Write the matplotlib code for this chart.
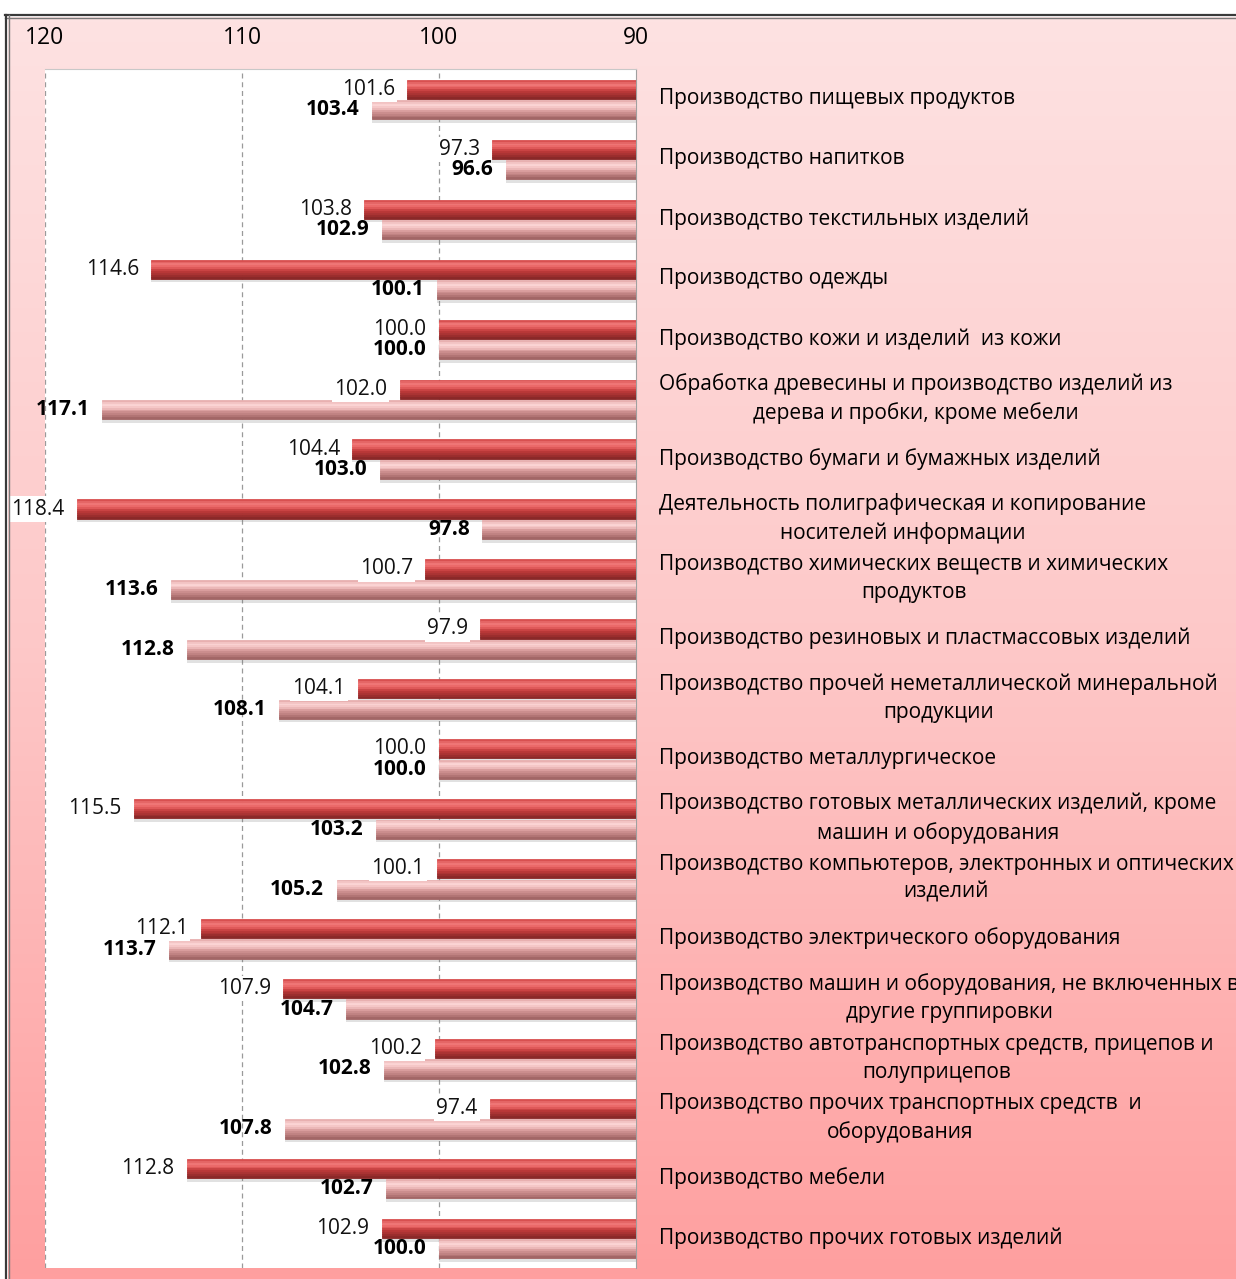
import matplotlib.pyplot as plt
import numpy as np
from matplotlib.lines import Line2D
from matplotlib.colors import LinearSegmentedColormap
from matplotlib.transforms import blended_transform_factory

plt.rcParams['font.family'] = ['Open Sans', 'DejaVu Sans']

categories = [
    "Производство пищевых продуктов",
    "Производство напитков",
    "Производство текстильных изделий",
    "Производство одежды",
    "Производство кожи и изделий  из кожи",
    "Обработка древесины и производство изделий из\nдерева и пробки, кроме мебели",
    "Производство бумаги и бумажных изделий",
    "Деятельность полиграфическая и копирование\nносителей информации",
    "Производство химических веществ и химических\nпродуктов",
    "Производство резиновых и пластмассовых изделий",
    "Производство прочей неметаллической минеральной\nпродукции",
    "Производство металлургическое",
    "Производство готовых металлических изделий, кроме\nмашин и оборудования",
    "Производство компьютеров, электронных и оптических\nизделий",
    "Производство электрического оборудования",
    "Производство машин и оборудования, не включенных в\nдругие группировки",
    "Производство автотранспортных средств, прицепов и\nполуприцепов",
    "Производство прочих транспортных средств  и\nоборудования",
    "Производство мебели",
    "Производство прочих готовых изделий",
]
series_a = [101.6, 97.3, 103.8, 114.6, 100.0, 102.0, 104.4, 118.4, 100.7, 97.9,
            104.1, 100.0, 115.5, 100.1, 112.1, 107.9, 100.2, 97.4, 112.8, 102.9]
series_b = [103.4, 96.6, 102.9, 100.1, 100.0, 117.1, 103.0, 97.8, 113.6, 112.8,
            108.1, 100.0, 103.2, 105.2, 113.7, 104.7, 102.8, 107.8, 102.7, 100.0]
x_ticks = [120, 110, 100, 90]
base = 90

W, H = 1236, 1279
fig = plt.figure(figsize=(W / 100, H / 100), dpi=100)

# pink gradient background inside the frame
bg = fig.add_axes([8 / W, 0, 1 - 8 / W, 1 - 17 / H], zorder=-10)
cmap = LinearSegmentedColormap.from_list("pink", ["#FDE2E2", "#FDC8C8", "#FF9F9F"])
bg.imshow(np.linspace(0, 1, 256).reshape(-1, 1), cmap=cmap, aspect='auto', origin='upper')
bg.axis('off')

# double frame lines
for y, c, lw in [(14.5, '#3A3A3A', 1.6), (17.5, '#7A7A7A', 1.0)]:
    fig.add_artist(Line2D([5 / W, 1], [1 - y / H, 1 - y / H], color=c, lw=lw))
for x, c, lw in [(5.5, '#3A3A3A', 1.6), (8.5, '#7A7A7A', 1.0)]:
    fig.add_artist(Line2D([x / W, x / W], [0, 1 - 14.5 / H], color=c, lw=lw))

ax = fig.add_axes([45 / W, 1 - 1268 / H, 591 / W, 1199 / H])
ax.set_facecolor('white')
ax.set_xlim(120, 90)
ax.set_ylim(len(categories) - 0.5, -0.5)

y = np.arange(len(categories))
a = np.array(series_a) - base
b = np.array(series_b) - base
h = 0.32
ya = y - 0.16
yb = y + 0.18


def glossy(yc, widths, colors, n=10):
    # soft shadow below the bar
    ax.barh(yc + 0.06, widths, height=h, left=base, color='#777777', alpha=0.22, zorder=2)
    shade = LinearSegmentedColormap.from_list("bar", colors)
    step = h / n
    for k in range(n):
        off = -h / 2 + step * (k + 0.5)
        c = shade(k / (n - 1))
        ax.barh(yc + off, widths, height=step, left=base,
                color=c, edgecolor=c, lw=0.6, zorder=3)


glossy(ya, a, ['#D85050', '#F07878', '#E86262', '#C03A3A', '#A83232', '#8A2828'])
glossy(yb, b, ['#E8B0B0', '#FCD6D6', '#F2C0C0', '#D29494', '#BE8080', '#A26666'])

for yi, v in zip(ya, series_a):
    ax.annotate(f"{v:.1f}", (v, yi), xytext=(-9, 0), textcoords='offset points',
                ha='right', va='center', fontsize=15, color='#111111', zorder=6,
                annotation_clip=False,
                bbox=dict(boxstyle='square,pad=0.1', fc='white', ec='none'))
for yi, v in zip(yb, series_b):
    ax.annotate(f"{v:.1f}", (v, yi), xytext=(-9, 0), textcoords='offset points',
                ha='right', va='center', fontsize=15, fontweight='bold', color='black',
                zorder=6, annotation_clip=False)

for xv in [120, 110, 100]:
    ax.axvline(xv, color='#9A9A9A', lw=0.9, ls=(0, (4, 3)), zorder=1)

ax.set_xticks(x_ticks)
ax.set_xticklabels([str(t) for t in x_ticks])
ax.xaxis.tick_top()
ax.tick_params(axis='x', length=0, pad=14, labelsize=16.5)
ax.set_yticks([])
for s in ['left', 'bottom']:
    ax.spines[s].set_visible(False)
ax.spines['right'].set_color('#A0A0A0')
ax.spines['top'].set_color('#C8C8C8')

tr = blended_transform_factory(ax.transAxes, ax.transData)
for yi, cat in zip(y, categories):
    ax.text(1.039, yi, cat, transform=tr, ha='left', va='center',
            multialignment='center', fontsize=15, linespacing=1.45, clip_on=False)

fig.savefig('out.png', dpi=100)
